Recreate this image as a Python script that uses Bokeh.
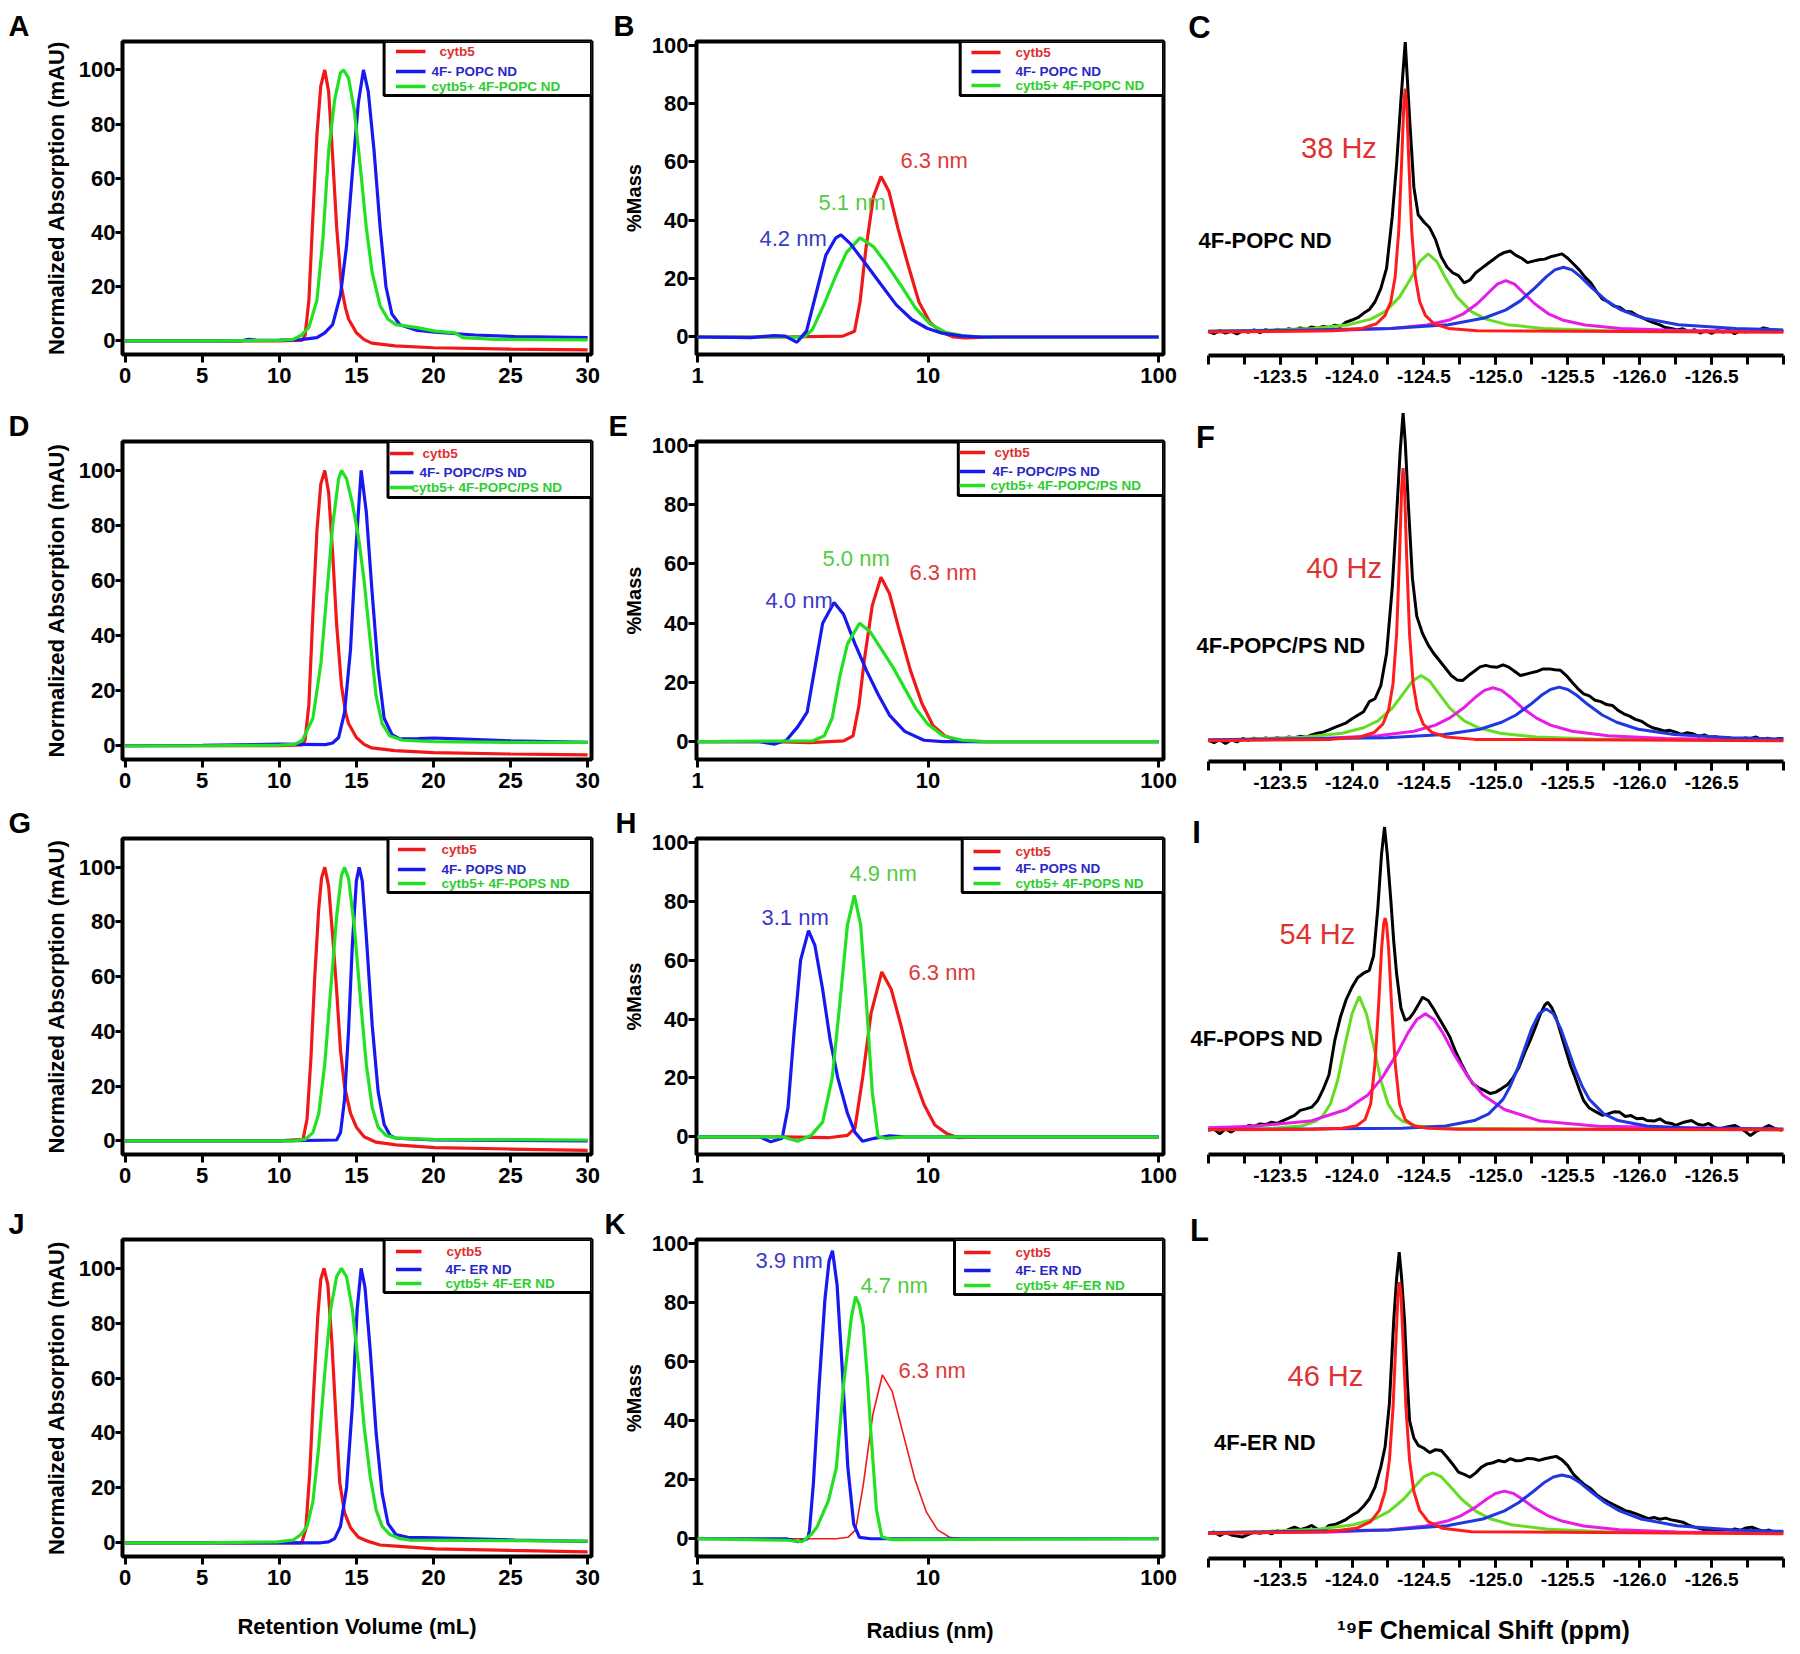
import math
from bokeh.plotting import figure
from bokeh.layouts import row, column
from bokeh.models import Range1d, FixedTicker, PrintfTickFormatter, Label
from bokeh.embed import file_html
from bokeh.resources import INLINE

# ============================ DATA ============================
SEC_XTICKS = [0, 5, 10, 15, 20, 25, 30]
Y_TICKS = [0, 20, 40, 60, 80, 100]
DLS_XTICKS = [1, 10, 100]
NMR_XTICKS = [-123.5, -124.0, -124.5, -125.0, -125.5, -126.0, -126.5]
NMR_MINOR = [-123.0, -123.25, -123.5, -123.75, -124.0, -124.25, -124.5, -124.75, -125.0,
             -125.25, -125.5, -125.75, -126.0, -126.25, -126.5, -126.75, -127.0]

LEG_RED = ["cytb5", "cytb5", "cytb5", "cytb5"]
LEG_BLUE = ["4F- POPC ND", "4F- POPC/PS ND", "4F- POPS ND", "4F- ER ND"]
LEG_GREEN = ["cytb5+ 4F-POPC ND", "cytb5+ 4F-POPC/PS ND", "cytb5+ 4F-POPS ND", "cytb5+ 4F-ER ND"]
DLS_RED_LABEL = ["6.3 nm", "6.3 nm", "6.3 nm", "6.3 nm"]
DLS_GREEN_LABEL = ["5.1 nm", "5.0 nm", "4.9 nm", "4.7 nm"]
DLS_BLUE_LABEL = ["4.2 nm", "4.0 nm", "3.1 nm", "3.9 nm"]
NMR_SAMPLE = ["4F-POPC ND", "4F-POPC/PS ND", "4F-POPS ND", "4F-ER ND"]
NMR_WIDTH = ["38 Hz", "40 Hz", "54 Hz", "46 Hz"]
LETTERS = [["A", "B", "C"], ["D", "E", "F"], ["G", "H", "I"], ["J", "K", "L"]]

# ---- SEC (retention volume mL, normalized absorption) ----
A_RED = [(0, 0), (5, 0), (10, 0), (11.5, 0.3), (11.67, 2), (11.92, 15), (12.18, 46), (12.44, 76), (12.69, 94),
         (12.95, 100), (13.2, 92), (13.46, 68), (13.72, 42), (14.03, 20), (14.3, 12), (14.5, 8), (15.0, 3),
         (15.5, 0.5), (16.0, -0.8), (17.5, -1.8), (20, -2.5), (25, -3.0), (30, -3.3)]
A_GREEN = [(0, 0), (5, 0), (10, 0.2), (10.9, 0.6), (11.4, 2), (11.92, 5), (12.44, 15), (12.82, 37), (13.2, 70),
           (13.59, 89), (13.97, 99), (14.18, 100), (14.49, 97), (14.87, 85), (15.26, 64), (15.64, 42),
           (16.03, 25), (16.54, 13), (17.05, 8), (17.56, 6), (18.85, 5), (20.1, 3.6), (21.4, 3), (21.9, 1.2),
           (24, 0.6), (30, 0.4)]
A_BLUE = [(0, 0), (7.5, 0), (8, 0.6), (8.5, 0.3), (9, 0.2), (10, 0.3), (11.4, 0.5), (12.44, 1.2), (12.95, 3),
          (13.46, 6), (13.97, 17), (14.36, 35), (14.74, 62), (15.13, 88), (15.46, 100), (15.77, 92), (16.15, 70),
          (16.54, 42), (16.92, 20), (17.3, 10), (17.82, 6), (18.85, 4), (20.1, 3.2), (22.7, 2.2), (25.3, 1.6),
          (30, 1.2)]

D_RED = [(0, 0), (5, 0), (10, 0), (11.5, 0.3), (11.67, 2), (11.92, 15), (12.18, 48), (12.44, 78), (12.69, 95),
         (12.95, 100), (13.2, 92), (13.46, 70), (13.72, 44), (14.03, 22), (14.3, 12), (14.5, 8), (15.0, 3),
         (15.5, 0.5), (16.0, -0.8), (17.5, -1.8), (20, -2.5), (25, -3.0), (30, -3.3)]
D_GREEN = [(0, 0), (5, 0), (10, 0.2), (11.0, 0.5), (11.5, 2), (12.18, 10), (12.7, 30), (13.08, 55), (13.46, 80),
           (13.85, 97), (14.03, 100), (14.36, 97), (14.74, 88), (15.13, 76), (15.5, 60), (15.9, 38), (16.28, 18),
           (16.67, 8), (17.18, 3.5), (18, 2), (20, 1.5), (25, 1.2), (30, 1.2)]
D_BLUE = [(0, 0), (5, 0.1), (10, 0.6), (13.0, 0.4), (13.46, 1), (13.85, 3), (14.23, 12), (14.62, 35), (14.95, 70),
          (15.31, 100), (15.64, 85), (16.03, 55), (16.41, 28), (16.8, 10), (17.31, 4), (17.82, 2.5), (19, 2.6),
          (20, 2.8), (22, 2.4), (25, 1.8), (30, 1.2)]

G_RED = [(0, 0), (5, 0), (10, 0), (11.54, 0.5), (11.8, 8), (12.05, 30), (12.3, 60), (12.56, 85), (12.74, 96),
         (12.95, 100), (13.2, 93), (13.46, 75), (13.72, 55), (13.97, 33), (14.23, 20), (14.62, 10), (15.0, 5),
         (15.5, 1.5), (16.28, -0.5), (17.56, -1.5), (20.1, -2.5), (25, -3), (30, -3.5)]
G_GREEN = [(0, 0), (5, 0), (10, 0), (10.9, 0), (11.67, 0.5), (12.18, 3), (12.56, 10), (12.95, 28), (13.33, 55),
           (13.72, 82), (14.03, 97), (14.23, 100), (14.49, 96), (14.87, 78), (15.26, 52), (15.64, 28),
           (16.03, 12), (16.41, 5), (16.92, 2), (17.56, 1), (20, 0.5), (30, 0.3)]
G_BLUE = [(0, 0), (5, 0), (10, 0), (13.72, 0.3), (13.97, 3), (14.23, 15), (14.49, 40), (14.74, 72), (15.0, 95),
          (15.18, 100), (15.38, 95), (15.64, 75), (16.03, 42), (16.41, 18), (16.8, 6), (17.18, 2), (17.56, 1),
          (20, 0.3), (30, 0)]

J_RED = [(0, 0), (5, 0), (10, 0), (11.46, 0), (11.72, 5), (11.97, 25), (12.23, 55), (12.49, 82), (12.69, 96),
         (12.9, 100), (13.15, 94), (13.41, 73), (13.67, 46), (13.92, 22), (14.23, 11), (14.62, 5.5), (15.13, 2),
         (15.77, 0.5), (16.54, -0.8), (17.56, -1.2), (20.1, -2.2), (25, -2.8), (30, -3.3)]
J_GREEN = [(0, 0), (5, 0), (9.87, 0.3), (10.9, 1), (11.41, 3), (11.8, 6), (12.18, 15), (12.56, 35), (12.95, 62),
           (13.33, 85), (13.72, 97), (14.03, 100), (14.36, 97), (14.74, 85), (15.13, 65), (15.51, 42), (15.9, 24),
           (16.28, 12), (16.67, 6), (17.18, 3), (17.82, 1.5), (18.46, 1), (30, 0.6)]
J_BLUE = [(0, 0), (5, 0), (10, 0), (12.69, 0), (13.2, 0.3), (13.59, 1.5), (13.97, 6), (14.36, 20), (14.74, 50),
          (15.05, 85), (15.31, 100), (15.56, 93), (15.9, 70), (16.28, 40), (16.67, 18), (17.05, 7), (17.56, 3),
          (18.33, 2), (20.1, 1.8), (25.3, 1), (30, 0.5)]

# ---- DLS (radius nm, %mass) ----
B_RED = [(1, 0), (2.3, 0), (4.27, 0.3), (4.8, 2), (5.07, 12), (5.37, 30), (5.79, 48), (6.25, 55), (6.76, 50),
         (7.42, 37), (8.17, 25), (9.13, 12), (10.2, 5), (11.5, 1.5), (12.9, 0), (14.5, -0.3), (20, 0), (100, 0)]
B_GREEN = [(1, 0), (2.9, 0), (3.15, 2.5), (3.53, 11), (3.98, 21), (4.43, 29), (5.07, 34), (5.79, 31), (6.61, 25),
           (7.58, 18), (8.81, 10), (10.2, 4.5), (12.0, 1.5), (14.5, 0.3), (17.5, 0), (100, 0)]
B_BLUE = [(1, 0), (1.71, -0.2), (2.15, 0.5), (2.4, 0.3), (2.7, -1.8), (2.97, 2), (3.27, 15), (3.6, 28), (3.98, 34),
          (4.19, 35), (4.6, 32), (5.37, 25), (6.25, 18), (7.28, 11), (8.5, 6), (9.9, 3), (11.5, 1.3), (13.9, 0.4),
          (16.9, 0), (100, 0)]

E_RED = [(1, 0), (2.16, 0), (3.05, -0.3), (4.3, 0.3), (4.73, 2), (5.01, 12), (5.3, 28), (5.73, 46), (6.25, 55.5),
         (6.8, 50), (7.48, 38), (8.39, 24), (9.4, 13), (10.5, 5.5), (11.8, 2), (13.5, 0.3), (17, 0), (100, 0)]
E_GREEN = [(1, 0), (3.17, 0.3), (3.55, 2), (3.84, 8), (4.14, 22), (4.47, 33), (5.05, 40), (5.62, 37), (6.3, 31),
           (7.06, 25), (7.92, 18), (8.89, 11), (9.96, 6), (11.6, 2), (14.1, 0.5), (17.7, 0), (100, 0)]
E_BLUE = [(1, 0), (1.86, 0), (2.16, -0.8), (2.43, 0.5), (2.72, 5), (2.99, 10), (3.23, 25), (3.49, 40), (3.91, 47),
          (4.3, 43), (4.82, 33), (5.41, 24), (6.07, 16), (6.8, 9), (7.92, 3.5), (9.6, 0.5), (11.6, 0), (100, 0)]

H_RED = [(1, 0), (2.33, 0), (3.69, -0.3), (4.47, 0.5), (4.82, 3), (5.2, 20), (5.66, 42), (6.3, 56), (6.93, 50),
         (7.62, 38), (8.55, 22), (9.6, 11), (10.7, 4), (12.1, 1), (13.5, -0.3), (17, 0), (100, 0)]
H_GREEN = [(1, 0), (2.33, 0), (2.72, -1.5), (3.11, 0.5), (3.49, 5), (3.84, 20), (4.14, 45), (4.47, 72), (4.79, 82),
           (5.1, 72), (5.41, 45), (5.73, 15), (6.07, 0), (6.55, -0.5), (7.92, 0), (100, 0)]
H_BLUE = [(1, 0), (1.86, 0), (2.08, -1.7), (2.33, -0.5), (2.47, 10), (2.62, 35), (2.8, 60), (3.03, 70), (3.23, 65),
          (3.49, 50), (3.76, 33), (4.06, 20), (4.47, 8), (4.82, 1.5), (5.2, -1.5), (5.84, -0.5), (6.8, 0.3),
          (7.92, 0), (100, 0)]

K_RED = [(1, 0), (2.43, 0), (4.0, 0), (4.49, 0.5), (4.85, 3), (5.23, 18), (5.76, 42), (6.34, 55.5), (6.98, 50),
         (7.83, 35), (8.78, 20), (9.84, 9), (11.0, 3), (12.4, 0.5), (14, 0), (100, 0)]
K_GREEN = [(1, 0), (2.43, -0.5), (2.84, -1), (3.12, 1.5), (3.3, 4), (3.7, 13), (4.0, 24), (4.3, 52), (4.65, 75),
           (4.85, 82), (5.04, 79), (5.24, 72), (5.45, 55), (5.65, 36), (5.97, 10), (6.3, 0.6), (7.0, -0.3), (100, 0)]
K_BLUE = [(1, 0), (2.43, 0), (2.73, -1), (3.0, 0), (3.06, 2.8), (3.18, 18.6), (3.37, 52), (3.57, 81), (3.72, 94),
          (3.85, 97.5), (4.03, 86), (4.24, 58), (4.49, 24), (4.76, 5), (5.04, 0.5), (5.65, 0), (100, 0)]

# ---- 19F NMR (ppm, intensity above baseline) ----
C_BLACK = [(-123.00, 0.3), (-123.04, -0.5), (-123.08, 0.6), (-123.12, -0.3), (-123.16, 0.4), (-123.20, -0.6),
           (-123.24, 0.5), (-123.28, 0.0), (-123.32, 0.8), (-123.36, -0.2), (-123.40, 0.9), (-123.44, 0.3),
           (-123.48, 1.0), (-123.52, 0.4), (-123.56, 1.2), (-123.60, 0.6), (-123.64, 1.5), (-123.68, 1.0),
           (-123.72, 1.8), (-123.76, 1.3), (-123.80, 2.0), (-123.84, 1.6), (-123.88, 2.4), (-123.92, 2.0),
           (-123.96, 3.5), (-124.00, 4.2), (-124.04, 5.0), (-124.08, 6.5), (-124.12, 7.8), (-124.16, 10.5),
           (-124.20, 15.0), (-124.24, 22.0), (-124.28, 40.0), (-124.31, 58), (-124.34, 80), (-124.37, 100),
           (-124.40, 74), (-124.43, 50), (-124.46, 40.5), (-124.50, 38), (-124.54, 36), (-124.58, 32),
           (-124.62, 26), (-124.66, 22.5), (-124.70, 20.5), (-124.74, 19.5), (-124.78, 17.0), (-124.82, 18.0),
           (-124.86, 20.5), (-124.90, 22.0), (-124.94, 23.5), (-124.98, 25.0), (-125.02, 26.5), (-125.06, 27.5),
           (-125.10, 28.0), (-125.14, 26.5), (-125.18, 25.5), (-125.22, 24.0), (-125.26, 24.5), (-125.30, 25.0),
           (-125.34, 25.2), (-125.38, 26.0), (-125.42, 26.5), (-125.46, 27.0), (-125.50, 25.5), (-125.54, 23.5),
           (-125.58, 21.5), (-125.62, 19.0), (-125.66, 17.0), (-125.70, 14.0), (-125.74, 11.5), (-125.78, 10.5),
           (-125.82, 9.0), (-125.86, 8.6), (-125.90, 7.2), (-125.94, 7.0), (-125.98, 5.8), (-126.02, 5.0),
           (-126.06, 4.0), (-126.10, 3.2), (-126.14, 2.5), (-126.18, 1.6), (-126.22, 1.3), (-126.26, 0.8),
           (-126.30, 1.2), (-126.34, 0.2), (-126.38, 0.9), (-126.42, -0.3), (-126.46, 0.6), (-126.50, -0.4),
           (-126.54, 0.7), (-126.58, 0.0), (-126.62, 0.8), (-126.66, -0.5), (-126.70, 0.5), (-126.74, 0.1),
           (-126.78, 0.9), (-126.82, 0.4), (-126.86, 1.5), (-126.90, 1.0), (-126.94, 0.2), (-126.98, 0.6),
           (-127.00, 0.2)]
C_RED = [(-123.0, 0.06), (-123.87, 0.48), (-124.07, 1.3), (-124.17, 2.9), (-124.23, 5.8), (-124.27, 10.6),
         (-124.30, 19.1), (-124.325, 35.0), (-124.345, 58.6), (-124.36, 78.6), (-124.37, 84), (-124.38, 78.6),
         (-124.395, 58.6), (-124.415, 35.0), (-124.44, 19.1), (-124.47, 10.6), (-124.51, 5.8), (-124.57, 2.9),
         (-124.67, 1.3), (-124.87, 0.48), (-127.0, 0.02)]
C_GREEN = [(-123.0, 0.37), (-123.33, 0.6), (-123.73, 1.3), (-123.98, 2.6), (-124.13, 4.5), (-124.23, 7.1),
           (-124.33, 12.1), (-124.41, 18.7), (-124.47, 24.3), (-124.53, 27), (-124.59, 24.3), (-124.65, 18.7),
           (-124.73, 12.1), (-124.83, 7.1), (-124.93, 4.5), (-125.08, 2.6), (-125.33, 1.3), (-125.73, 0.6),
           (-127.0, 0.14)]
C_MAG = [(-123.0, 0.2), (-123.87, 0.58), (-124.27, 1.25), (-124.52, 2.5), (-124.67, 4.1), (-124.77, 6.2),
         (-124.87, 9.8), (-124.95, 13.7), (-125.01, 16.6), (-125.07, 17.8), (-125.13, 16.6), (-125.19, 13.7),
         (-125.27, 9.8), (-125.37, 6.2), (-125.47, 4.1), (-125.62, 2.5), (-125.87, 1.25), (-126.27, 0.58),
         (-127.0, 0.23)]
C_BLUE = [(-123.0, 0.3), (-124.27, 1.24), (-124.67, 2.6), (-124.92, 4.9), (-125.07, 7.7), (-125.17, 10.8),
          (-125.27, 15.2), (-125.35, 19.1), (-125.41, 21.5), (-125.47, 22.4), (-125.53, 21.5), (-125.59, 19.1),
          (-125.67, 15.2), (-125.77, 10.8), (-125.87, 7.7), (-126.02, 4.9), (-126.27, 2.6), (-126.67, 1.24),
          (-127.0, 0.78)]

F_BLACK = [(-123.00, 0.2), (-123.04, -0.6), (-123.08, 0.4), (-123.12, -0.9), (-123.16, 0.3), (-123.20, -0.4),
           (-123.24, 0.8), (-123.28, 0.2), (-123.32, 0.9), (-123.36, 0.3), (-123.40, 1.0), (-123.44, 0.5),
           (-123.48, 1.1), (-123.52, 0.6), (-123.56, 1.3), (-123.60, 1.0), (-123.64, 1.6), (-123.68, 1.2),
           (-123.72, 2.0), (-123.76, 2.6), (-123.80, 3.0), (-123.84, 3.8), (-123.88, 4.6), (-123.92, 5.4),
           (-123.96, 6.2), (-124.00, 7.6), (-124.04, 8.8), (-124.08, 10.0), (-124.12, 13.5), (-124.16, 14.5),
           (-124.20, 19.0), (-124.24, 30.0), (-124.28, 53), (-124.31, 78), (-124.335, 100), (-124.355, 113),
           (-124.37, 103), (-124.39, 83), (-124.42, 56), (-124.45, 43), (-124.49, 37), (-124.53, 33),
           (-124.57, 30), (-124.61, 27.5), (-124.65, 25), (-124.69, 22.5), (-124.73, 21), (-124.77, 20.8),
           (-124.81, 22.5), (-124.85, 24), (-124.89, 25.5), (-124.93, 26), (-124.97, 25.5), (-125.01, 25.4),
           (-125.05, 26.2), (-125.09, 25.4), (-125.13, 24), (-125.17, 22.5), (-125.21, 23), (-125.25, 23.5),
           (-125.29, 24), (-125.33, 24.8), (-125.37, 24.8), (-125.41, 24.5), (-125.45, 24.3), (-125.49, 22.5),
           (-125.53, 20.2), (-125.57, 18), (-125.61, 16.2), (-125.65, 15.5), (-125.69, 14), (-125.73, 13.5),
           (-125.77, 12.5), (-125.81, 12.2), (-125.85, 10.5), (-125.89, 9.3), (-125.93, 8.5), (-125.97, 7.4),
           (-126.01, 6.8), (-126.05, 5.5), (-126.09, 4.5), (-126.13, 4.0), (-126.17, 3.4), (-126.21, 3.6),
           (-126.25, 3.0), (-126.29, 2.2), (-126.33, 2.8), (-126.37, 2.4), (-126.41, 1.6), (-126.45, 2.0),
           (-126.49, 1.2), (-126.53, 1.4), (-126.57, 0.6), (-126.61, 1.1), (-126.65, 0.7), (-126.69, 0.2),
           (-126.73, 1.0), (-126.77, 0.8), (-126.81, 1.3), (-126.85, 0.4), (-126.89, 0.9), (-126.93, 0.3),
           (-126.97, 0.8), (-127.00, 0.7)]
F_RED = [(-123.0, 0.06), (-123.855, 0.49), (-124.055, 1.3), (-124.155, 2.9), (-124.215, 5.8), (-124.255, 10.8),
         (-124.285, 19.7), (-124.31, 36.7), (-124.33, 63.4), (-124.345, 87.3), (-124.355, 94), (-124.365, 87.3),
         (-124.38, 63.4), (-124.40, 36.7), (-124.425, 19.7), (-124.455, 10.8), (-124.495, 5.8), (-124.555, 2.9),
         (-124.655, 1.3), (-124.855, 0.49), (-127.0, 0.02)]
F_GREEN = [(-123.0, 0.4), (-123.28, 0.61), (-123.68, 1.3), (-123.93, 2.6), (-124.08, 4.5), (-124.18, 6.9),
           (-124.28, 11.25), (-124.36, 16.5), (-124.42, 20.6), (-124.48, 22.5), (-124.54, 20.6), (-124.60, 16.5),
           (-124.68, 11.25), (-124.78, 6.9), (-124.88, 4.5), (-125.03, 2.6), (-125.28, 1.3), (-125.68, 0.61),
           (-127.0, 0.14)]
F_MAG = [(-123.0, 0.31), (-123.78, 0.82), (-124.18, 1.75), (-124.43, 3.3), (-124.58, 5.4), (-124.68, 7.9),
         (-124.78, 11.5), (-124.86, 15.1), (-124.92, 17.4), (-124.98, 18.3), (-125.04, 17.4), (-125.10, 15.1),
         (-125.18, 11.5), (-125.28, 7.9), (-125.38, 5.4), (-125.53, 3.3), (-125.78, 1.75), (-126.18, 0.82),
         (-127.0, 0.3)]
F_BLUE = [(-123.0, 0.26), (-124.24, 1.02), (-124.64, 2.15), (-124.89, 4.0), (-125.04, 6.4), (-125.14, 8.9),
          (-125.24, 12.5), (-125.32, 15.8), (-125.38, 17.7), (-125.44, 18.5), (-125.50, 17.7), (-125.56, 15.8),
          (-125.64, 12.5), (-125.74, 8.9), (-125.84, 6.4), (-125.99, 4.0), (-126.24, 2.15), (-126.64, 1.02),
          (-127.0, 0.62)]

I_BLACK = [(-123.00, -0.2), (-123.04, 0.3), (-123.08, -1.4), (-123.12, 0.3), (-123.16, -0.8), (-123.20, 0.5),
           (-123.24, 0.4), (-123.28, 1.5), (-123.32, 1.2), (-123.36, 2.0), (-123.40, 1.8), (-123.44, 2.6),
           (-123.48, 2.2), (-123.52, 3.2), (-123.56, 4.0), (-123.60, 5.0), (-123.64, 6.7), (-123.68, 7.2),
           (-123.72, 7.8), (-123.76, 10), (-123.80, 14), (-123.84, 19), (-123.88, 30.8), (-123.92, 39),
           (-123.96, 45), (-124.00, 49.2), (-124.04, 52.5), (-124.08, 54), (-124.12, 55), (-124.15, 60),
           (-124.18, 76.8), (-124.205, 95), (-124.226, 104.4), (-124.245, 95), (-124.27, 79), (-124.29, 65),
           (-124.31, 53.8), (-124.34, 42), (-124.37, 37.7), (-124.40, 38.5), (-124.43, 40.5), (-124.46, 43),
           (-124.49, 45.7), (-124.53, 44.6), (-124.57, 41.5), (-124.60, 38.9), (-124.64, 35.5), (-124.68, 32),
           (-124.72, 27), (-124.76, 22.8), (-124.80, 19), (-124.84, 15.9), (-124.88, 14.5), (-124.92, 13.6),
           (-124.96, 12.5), (-125.00, 13), (-125.04, 14.2), (-125.08, 15.5), (-125.12, 18), (-125.16, 21.5),
           (-125.20, 26.5), (-125.24, 31), (-125.28, 36), (-125.31, 40), (-125.34, 43), (-125.36, 44),
           (-125.39, 42), (-125.42, 38.5), (-125.45, 33.5), (-125.48, 28.5), (-125.52, 22), (-125.55, 18.2),
           (-125.58, 14), (-125.61, 10.1), (-125.65, 7.5), (-125.70, 6.1), (-125.74, 5.0), (-125.78, 5.5),
           (-125.82, 6.2), (-125.86, 6.1), (-125.90, 4.6), (-125.94, 4.9), (-125.98, 3.8), (-126.02, 4.0),
           (-126.05, 3.2), (-126.10, 3.0), (-126.14, 3.8), (-126.18, 2.5), (-126.22, 2.2), (-126.25, 1.5),
           (-126.30, 2.5), (-126.36, 3.2), (-126.40, 2.0), (-126.44, 1.5), (-126.48, 2.2), (-126.52, 0.9),
           (-126.55, 0.3), (-126.60, 0.9), (-126.66, 1.5), (-126.70, 0.5), (-126.74, -0.8), (-126.77, -2.0),
           (-126.81, -0.5), (-126.85, 0.3), (-126.90, 1.5), (-126.94, 0.4), (-126.99, -0.2)]
I_RED = [(-123.0, 0.05), (-123.73, 0.2), (-123.93, 0.5), (-124.03, 1.3), (-124.09, 3.5), (-124.13, 9),
         (-124.16, 23), (-124.185, 43), (-124.205, 62), (-124.22, 71), (-124.23, 73), (-124.24, 71),
         (-124.255, 62), (-124.275, 43), (-124.30, 23), (-124.33, 9), (-124.37, 3.5), (-124.43, 1.3),
         (-124.53, 0.5), (-124.73, 0.2), (-127.0, 0.02)]
I_GREEN = [(-123.0, 0.1), (-123.45, 0.5), (-123.65, 1.3), (-123.75, 3), (-123.80, 5), (-123.85, 9), (-123.90, 17),
           (-123.95, 29), (-124.00, 40), (-124.05, 46), (-124.10, 40), (-124.15, 29), (-124.20, 17), (-124.25, 9),
           (-124.30, 5), (-124.35, 3), (-124.45, 1.3), (-124.65, 0.5), (-127.0, 0.05)]
I_MAG = [(-123.0, 0.7), (-123.31, 1.2), (-123.71, 3), (-123.96, 7), (-124.11, 12), (-124.21, 18), (-124.31, 26),
         (-124.39, 33.5), (-124.45, 38), (-124.51, 40), (-124.57, 38), (-124.63, 33.5), (-124.71, 26),
         (-124.81, 18), (-124.91, 12), (-125.06, 7), (-125.31, 3), (-125.71, 1.2), (-127.0, 0.25)]
I_BLUE = [(-123.0, 0.1), (-124.35, 0.5), (-124.65, 1.3), (-124.85, 3.2), (-124.95, 5.5), (-125.05, 10.5),
          (-125.10, 15), (-125.15, 21), (-125.20, 28), (-125.25, 35), (-125.30, 40), (-125.35, 41.7),
          (-125.40, 40), (-125.45, 35), (-125.50, 28), (-125.55, 21), (-125.60, 15), (-125.65, 10.5),
          (-125.75, 5.5), (-125.85, 3.2), (-126.05, 1.3), (-126.35, 0.5), (-127.0, 0.2)]

L_BLACK = [(-123.00, 0.0), (-123.04, 0.6), (-123.08, -0.6), (-123.12, 0.4), (-123.16, -0.4), (-123.20, -0.8),
           (-123.24, -1.1), (-123.28, -0.2), (-123.32, 0.6), (-123.36, 0.2), (-123.40, 0.8), (-123.44, 0.0),
           (-123.48, 1.0), (-123.52, 0.6), (-123.56, 1.5), (-123.60, 2.3), (-123.64, 1.4), (-123.68, 2.0),
           (-123.72, 2.9), (-123.76, 1.6), (-123.80, 1.1), (-123.84, 2.9), (-123.88, 3.2), (-123.92, 4.0),
           (-123.96, 5.0), (-124.00, 6.4), (-124.04, 7.5), (-124.08, 9.5), (-124.12, 12.0), (-124.16, 16.1),
           (-124.20, 23.0), (-124.23, 30.0), (-124.26, 45.0), (-124.29, 73.6), (-124.31, 88), (-124.328, 97.1),
           (-124.345, 88), (-124.365, 73.6), (-124.385, 52), (-124.40, 39), (-124.43, 33), (-124.46, 30.5),
           (-124.50, 29.5), (-124.54, 28), (-124.58, 29), (-124.62, 28.7), (-124.66, 26.5), (-124.70, 24),
           (-124.74, 21.3), (-124.78, 20.5), (-124.82, 19.5), (-124.86, 21), (-124.90, 23), (-124.94, 24.1),
           (-124.98, 24.5), (-125.02, 25.3), (-125.06, 24.8), (-125.10, 25.9), (-125.14, 25.2), (-125.18, 25.3),
           (-125.22, 26), (-125.26, 25.9), (-125.30, 25.3), (-125.34, 25.9), (-125.38, 26.3), (-125.42, 26.7),
           (-125.46, 25.5), (-125.50, 23.5), (-125.54, 20.5), (-125.58, 18.5), (-125.62, 16.8), (-125.66, 15.5),
           (-125.70, 13.5), (-125.74, 12.2), (-125.78, 11.0), (-125.82, 10.0), (-125.86, 9.0), (-125.90, 8.0),
           (-125.94, 7.5), (-125.98, 6.8), (-126.02, 6.0), (-126.06, 5.2), (-126.10, 5.6), (-126.14, 5.0),
           (-126.18, 5.4), (-126.22, 4.8), (-126.26, 4.4), (-126.30, 4.0), (-126.34, 3.0), (-126.38, 2.3),
           (-126.42, 1.8), (-126.46, 1.2), (-126.50, 1.5), (-126.54, 1.0), (-126.58, 1.4), (-126.62, 0.8),
           (-126.66, 1.7), (-126.70, 1.2), (-126.74, 2.0), (-126.78, 2.3), (-126.82, 1.5), (-126.86, 0.9),
           (-126.90, 1.3), (-126.94, 0.5), (-126.98, 0.8), (-127.00, 0.6)]
L_RED = [(-123.0, 0.1), (-123.83, 0.7), (-124.03, 1.9), (-124.13, 4.2), (-124.19, 8.1), (-124.23, 14.6),
         (-124.26, 25.4), (-124.285, 43.4), (-124.305, 66.3), (-124.32, 82.7), (-124.33, 86.8), (-124.34, 82.7),
         (-124.355, 66.3), (-124.375, 43.4), (-124.40, 25.4), (-124.43, 14.6), (-124.47, 8.1), (-124.53, 4.2),
         (-124.63, 1.9), (-124.83, 0.7), (-127.0, 0.03)]
L_GREEN = [(-123.0, 0.45), (-123.36, 0.74), (-123.76, 1.6), (-124.01, 3.1), (-124.16, 5.2), (-124.26, 7.8),
           (-124.36, 12.0), (-124.44, 16.5), (-124.50, 19.7), (-124.56, 21), (-124.62, 19.7), (-124.68, 16.5),
           (-124.76, 12.0), (-124.86, 7.8), (-124.96, 5.2), (-125.11, 3.1), (-125.36, 1.6), (-125.76, 0.74),
           (-127.0, 0.18)]
L_MAG = [(-123.0, 0.23), (-123.86, 0.66), (-124.26, 1.4), (-124.51, 2.7), (-124.66, 4.4), (-124.76, 6.3),
         (-124.86, 9.2), (-124.94, 12.1), (-125.00, 13.95), (-125.06, 14.7), (-125.12, 13.95), (-125.18, 12.1),
         (-125.26, 9.2), (-125.36, 6.3), (-125.46, 4.4), (-125.61, 2.7), (-125.86, 1.4), (-126.26, 0.66),
         (-127.0, 0.26)]
L_BLUE = [(-123.0, 0.34), (-124.26, 1.35), (-124.66, 2.8), (-124.91, 5.1), (-125.06, 7.9), (-125.16, 10.8),
          (-125.26, 14.6), (-125.34, 17.8), (-125.40, 19.6), (-125.46, 20.3), (-125.52, 19.6), (-125.58, 17.8),
          (-125.66, 14.6), (-125.76, 10.8), (-125.86, 7.9), (-126.01, 5.1), (-126.26, 2.8), (-126.66, 1.35),
          (-127.0, 0.84)]

SEC_RED = [A_RED, D_RED, G_RED, J_RED]
SEC_GREEN = [A_GREEN, D_GREEN, G_GREEN, J_GREEN]
SEC_BLUE = [A_BLUE, D_BLUE, G_BLUE, J_BLUE]
DLS_RED = [B_RED, E_RED, H_RED, K_RED]
DLS_GREEN = [B_GREEN, E_GREEN, H_GREEN, K_GREEN]
DLS_BLUE = [B_BLUE, E_BLUE, H_BLUE, K_BLUE]
NMR_BLACK = [C_BLACK, F_BLACK, I_BLACK, L_BLACK]
NMR_RED = [C_RED, F_RED, I_RED, L_RED]
NMR_GREEN = [C_GREEN, F_GREEN, I_GREEN, L_GREEN]
NMR_MAG = [C_MAG, F_MAG, I_MAG, L_MAG]
NMR_BLUE = [C_BLUE, F_BLUE, I_BLUE, L_BLUE]

# ============================ STYLE / LAYOUT (page pixels) ============================
FONT = "Liberation Sans"
RED, BLUE, GREEN = "#f01818", "#1818f0", "#22e022"
N_RED, N_GREEN, N_MAG, N_BLUE = "#ff1c1c", "#66dd22", "#e81ce8", "#2038e0"
T_RED, T_BLUE, T_GREEN = "#e03030", "#2828c8", "#30cc30"
A_RED_T, A_GREEN_T, A_BLUE_T = "#dc3a3a", "#52cc40", "#3a3ac8"

ROW_TOP = [0, 398, 797, 1194]
ROW_H = [398, 399, 397, 457]
COL_LEFT = [0, 602, 1183]
COL_W = [602, 581, 615]

SEC_FL, SEC_FW, SEC_XR = 122, 469, (-0.17, 30.25)
DLS_FL, DLS_FW, DLS_XR = 696, 467, (0.99, 105)
BOX_FRAME = [(41, 313), (441, 318), (838, 316), (1239, 317)]      # shared by SEC and DLS panels of a row
NMR_FRAME = [(355, 331.7), (761, 740.3), (1154, 1129.3), (1558, 1533.3)]  # axis line y, baseline y
NMR_X0_PX, NMR_X1_PX = 1207.7, 1783   # pixel positions of -123.0 and -127.0 ppm
NMR_PX = 2.9

SEC_LEG = [dict(l=383.6, b=95, ys=(51, 71, 86), lx=(395.5, 425), tx=(439, 431, 431)),
           dict(l=387.5, b=497, ys=(453, 472, 487), lx=(389.5, 413), tx=(422, 419, 411)),
           dict(l=387.5, b=892, ys=(849, 869, 883), lx=(397.4, 425), tx=(441, 441, 441)),
           dict(l=383.6, b=1292, ys=(1251, 1269, 1283), lx=(395.5, 421), tx=(446, 445, 445))]
DLS_LEG = [dict(l=959.7, b=95, ys=(52, 71, 85), lx=(971, 1000), tx=(1015, 1015, 1015)),
           dict(l=957.8, b=495, ys=(452, 471, 485), lx=(959, 984.6), tx=(994, 992, 990)),
           dict(l=961.7, b=892, ys=(851, 868, 883), lx=(973, 1000), tx=(1015, 1015, 1015)),
           dict(l=954, b=1294, ys=(1252, 1270, 1285), lx=(963.6, 990), tx=(1015, 1015, 1015))]
DLS_RED_POS = [(900, 160), (909, 572), (908, 972), (898, 1370)]
DLS_GREEN_POS = [(818, 202), (822, 558), (849, 873), (860, 1285)]
DLS_BLUE_POS = [(759, 238), (765, 600), (761, 917), (755, 1260)]
NMR_HZ_POS = [(1300.6, 147), (1305.7, 567), (1279, 933), (1287, 1375)]
NMR_NAME_POS = [(1198, 240), (1196, 645), (1190, 1038), (1213.6, 1442)]
LETTER_LEFT = [[8, 613], [8, 608], [8, 615], [8, 604]]
NMR_LETTER_POS = [(1199, 27), (1205, 437), (1196, 832), (1199, 1230)]


def pairs_xy(pairs):
    return [a for a, _ in pairs], [b for _, b in pairs]


def make_fig(r, c, fl, fw, ft, fh, xr, yr, xlog=False, yaxis=True):
    kw = dict(width=COL_W[c], height=ROW_H[r], x_range=Range1d(*xr), y_range=Range1d(*yr),
              output_backend="svg", toolbar_location=None,
              min_border_left=int(round(fl - COL_LEFT[c])),
              min_border_right=int(round(COL_W[c] - (fl - COL_LEFT[c]) - fw)),
              min_border_top=int(round(ft - ROW_TOP[r])),
              min_border_bottom=int(round(ROW_H[r] - (ft - ROW_TOP[r]) - fh)))
    if xlog:
        kw["x_axis_type"] = "log"
    if not yaxis:
        kw["y_axis_location"] = None
    p = figure(**kw)
    p.grid.visible = False
    p.background_fill_color = "white"
    p.border_fill_color = "white"
    g = dict(fl=fl, fw=fw, ft=ft, fh=fh, xr=xr, yr=yr, log=xlog)
    return p, g


def PX(g, px):
    f = (px - g["fl"]) / g["fw"]
    a, b = g["xr"]
    if g["log"]:
        la, lb = math.log10(a), math.log10(b)
        return 10 ** (la + f * (lb - la))
    return a + f * (b - a)


def PY(g, py):
    f = (g["ft"] + g["fh"] - py) / g["fh"]
    a, b = g["yr"]
    return a + f * (b - a)


def style_axis(ax, size, standoff, tick_out):
    ax.axis_line_color = None
    ax.major_tick_line_color = "black"
    ax.major_tick_line_width = 3
    ax.major_tick_out = tick_out
    ax.major_tick_in = 0
    ax.minor_tick_line_color = None
    ax.major_label_text_font = FONT
    ax.major_label_text_font_style = "bold"
    ax.major_label_text_font_size = size
    ax.major_label_text_color = "black"
    ax.major_label_standoff = standoff
    ax.axis_label_text_font = FONT
    ax.axis_label_text_font_style = "bold"
    ax.axis_label_text_color = "black"


def add_label(p, x, y, text, color, size, bold=False, align="left"):
    p.add_layout(Label(x=x, y=y, text=text, text_color=color, text_font=FONT, text_font_size=size,
                       text_font_style="bold" if bold else "normal", text_align=align,
                       text_baseline="middle"))


def add_legend(p, g, L, r):
    p.quad(left=[PX(g, L["l"])], right=[g["xr"][1]], top=[g["yr"][1]], bottom=[PY(g, L["b"])],
           fill_color="white", line_color="black", line_width=3)
    for yy, lc, tc, tx, nm in zip(L["ys"], (RED, BLUE, GREEN), (T_RED, T_BLUE, T_GREEN), L["tx"],
                                  (LEG_RED[r], LEG_BLUE[r], LEG_GREEN[r])):
        p.segment(x0=[PX(g, L["lx"][0])], y0=[PY(g, yy)], x1=[PX(g, L["lx"][1])], y1=[PY(g, yy)],
                  line_color=lc, line_width=3.5)
        add_label(p, PX(g, tx), PY(g, yy), nm, tc, "13.5px", bold=True)


def title_letter(p, r, c, fl):
    p.title.text = LETTERS[r][c]
    p.title.align = "left"
    p.title.offset = LETTER_LEFT[r][c] - fl
    p.title.standoff = 0
    p.title.text_font = FONT
    p.title.text_font_size = "29px"
    p.title.text_font_style = "bold"
    p.title.text_color = "black"


def sec_panel(r):
    ft, fh = BOX_FRAME[r]
    p, g = make_fig(r, 0, SEC_FL, SEC_FW, ft, fh, SEC_XR, (-5, 110.5))
    p.outline_line_color = "black"
    p.outline_line_width = 4
    style_axis(p.xaxis[0], "22px", 5, 8)
    style_axis(p.yaxis[0], "22px", 0, 7)
    p.xaxis[0].ticker = FixedTicker(ticks=SEC_XTICKS)
    p.yaxis[0].ticker = FixedTicker(ticks=Y_TICKS)
    p.yaxis[0].axis_label = "Normalized Absorption (mAU)"
    p.yaxis[0].axis_label_text_font_size = "22px"
    p.yaxis[0].axis_label_standoff = 7
    if r == 3:
        p.xaxis[0].axis_label = "Retention Volume (mL)"
        p.xaxis[0].axis_label_text_font_size = "22px"
        p.xaxis[0].axis_label_standoff = 26
    for pairs, col in ((SEC_RED[r], RED), (SEC_BLUE[r], BLUE), (SEC_GREEN[r], GREEN)):
        xs, ys = pairs_xy(pairs)
        p.line(xs, ys, line_color=col, line_width=3.2)
    add_legend(p, g, SEC_LEG[r], r)
    title_letter(p, r, 0, SEC_FL)
    return p


def dls_panel(r):
    ft, fh = BOX_FRAME[r]
    p, g = make_fig(r, 1, DLS_FL, DLS_FW, ft, fh, DLS_XR, (-6, 101.3), xlog=True)
    p.outline_line_color = "black"
    p.outline_line_width = 4
    style_axis(p.xaxis[0], "22px", 5, 8)
    style_axis(p.yaxis[0], "22px", 0, 8)
    p.xaxis[0].ticker = FixedTicker(ticks=DLS_XTICKS)
    p.xaxis[0].formatter = PrintfTickFormatter(format="%d")
    p.yaxis[0].ticker = FixedTicker(ticks=Y_TICKS)
    p.yaxis[0].axis_label = "%Mass"
    p.yaxis[0].axis_label_text_font_size = "20px"
    p.yaxis[0].axis_label_standoff = 4
    if r == 3:
        p.xaxis[0].axis_label = "Radius (nm)"
        p.xaxis[0].axis_label_text_font_size = "22px"
        p.xaxis[0].axis_label_standoff = 30
    order = ((DLS_RED[r], RED), (DLS_GREEN[r], GREEN), (DLS_BLUE[r], BLUE)) if r == 0 else \
            ((DLS_RED[r], RED), (DLS_BLUE[r], BLUE), (DLS_GREEN[r], GREEN))
    for pairs, col in order:
        xs, ys = pairs_xy(pairs)
        lw = 1.6 if (r == 3 and col == RED) else 3.2
        p.line(xs, ys, line_color=col, line_width=lw)
    add_legend(p, g, DLS_LEG[r], r)
    for txt, pos, colr in ((DLS_RED_LABEL[r], DLS_RED_POS[r], A_RED_T),
                           (DLS_GREEN_LABEL[r], DLS_GREEN_POS[r], A_GREEN_T),
                           (DLS_BLUE_LABEL[r], DLS_BLUE_POS[r], A_BLUE_T)):
        add_label(p, PX(g, pos[0]), PY(g, pos[1]), txt, colr, "22px")
    title_letter(p, r, 1, DLS_FL)
    return p


def nmr_panel(r):
    axis_y, base_y = NMR_FRAME[r]
    ft = ROW_TOP[r]
    fh = axis_y - ft
    fl = COL_LEFT[2]
    fw = NMR_X1_PX - fl
    ppm_per_px = 4.0 / (NMR_X1_PX - NMR_X0_PX)
    xr = (-123.0 + (NMR_X0_PX - fl) * ppm_per_px, -127.0)
    yr = (-(axis_y - base_y) / NMR_PX, (base_y - ft) / NMR_PX)
    p, g = make_fig(r, 2, fl, fw, ft, fh, xr, yr, yaxis=False)
    p.outline_line_color = None
    ax = p.xaxis[0]
    style_axis(ax, "19px", 5, 9)
    ax.bounds = (-127.0, -123.0)
    ax.axis_line_color = "black"
    ax.axis_line_width = 4
    ax.ticker = FixedTicker(ticks=NMR_XTICKS, minor_ticks=NMR_MINOR)
    ax.formatter = PrintfTickFormatter(format="%.1f")
    ax.minor_tick_line_color = "black"
    ax.minor_tick_line_width = 3
    ax.minor_tick_out = 9
    ax.minor_tick_in = 0
    if r == 3:
        ax.axis_label = "\u00b9\u2079F Chemical Shift (ppm)"
        ax.axis_label_text_font_size = "25px"
        ax.axis_label_standoff = 27
    for pairs, col in ((NMR_BLACK[r], "black"), (NMR_GREEN[r], N_GREEN), (NMR_MAG[r], N_MAG),
                       (NMR_BLUE[r], N_BLUE), (NMR_RED[r], N_RED)):
        xs, ys = pairs_xy(pairs)
        p.line(xs, ys, line_color=col, line_width=3)
    hx, hy = NMR_HZ_POS[r]
    add_label(p, PX(g, hx), PY(g, hy), NMR_WIDTH[r], "#dd3333", "29px")
    nx, ny = NMR_NAME_POS[r]
    add_label(p, PX(g, nx), PY(g, ny), NMR_SAMPLE[r], "black", "22px", bold=True)
    lx, ly = NMR_LETTER_POS[r]
    add_label(p, PX(g, lx), PY(g, ly), LETTERS[r][2], "black", "31px", bold=True, align="center")
    return p


left_block = column(*[row(sec_panel(r), dls_panel(r), spacing=0) for r in range(4)], spacing=0)
right_block = column(*[nmr_panel(r) for r in range(4)], spacing=0)
layout = row(left_block, right_block, spacing=0)

open("out.html", "w").write(file_html(layout, INLINE))
